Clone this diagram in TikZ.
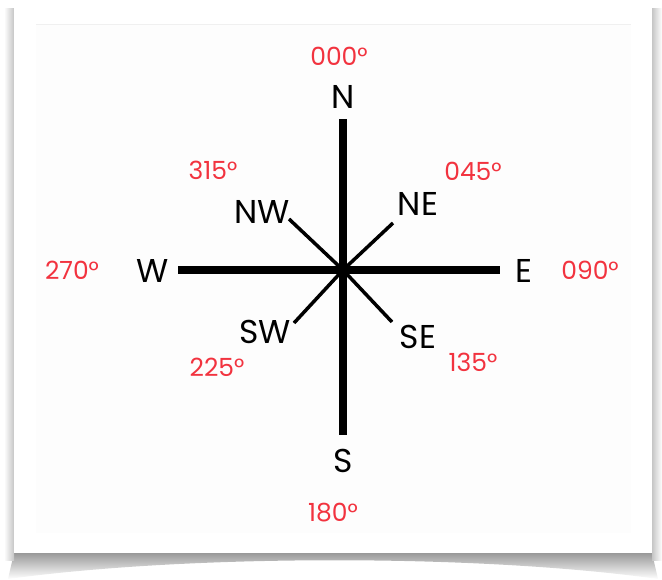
\documentclass[tikz,border=0pt]{standalone}
\usepackage{fontspec}
\setmainfont{Poppins}
\usepackage{xcolor}
\usepackage{tikz}
\usetikzlibrary{calc}
\definecolor{bearing}{HTML}{F2333F}
\definecolor{inner}{HTML}{FDFDFD}

\tikzset{
    point/.style={font=\fontsize{33}{33}\selectfont, text=black, inner sep=0pt},
    angle/.style={font=\fontsize{25}{25}\selectfont, text=bearing, inner sep=0pt},
    mainline/.style={line width=7.5pt},
    diagline/.style={line width=3.5pt},
}

\begin{document}
\begin{tikzpicture}[x=1pt, y=-1pt]
    \useasboundingbox (0,0) rectangle (662,579);
    % --- Card with its shadow ---
    \shade[top color=gray!80, bottom color=white]
        (14,553) -- (652,553) -- (658,579) .. controls (480,554) and (190,554) .. (8,579) -- cycle;
    \shade[left color=white, right color=gray!45] (4,8) rectangle (14,560);
    \shade[left color=gray!45, right color=white] (652,8) rectangle (662,560);
    \fill[white] (14,2) rectangle (652,553);
    \fill[inner] (36,24) rectangle (631,533);
    \draw[gray!12, line width=1pt] (36,24) -- (631,24);

    % --- Compass ---
    \coordinate (c) at (343,270);
    \coordinate (n) at (343,119);
    \coordinate (s) at (343,435);
    \coordinate (w) at (178,270);
    \coordinate (e) at (500,270);
    \coordinate (ne) at (393,223);
    \coordinate (nw) at (289,219);
    \coordinate (sw) at (294,323);
    \coordinate (se) at (392,322);
    \draw[mainline] (n) -- (s);
    \draw[mainline] (w) -- (e);
    \draw[diagline] (c) -- (ne);
    \draw[diagline] (c) -- (nw);
    \draw[diagline] (c) -- (sw);
    \draw[diagline] (c) -- (se);

    % --- Points ---
    \node[point] (N) at (343,97) {N};
    \node[point] (S) at (343,461) {S};
    \node[point] (W) at (153,271) {W};
    \node[point] (E) at (524,271) {E};
    \node[point] (NW) at (262,212) {NW};
    \node[point] (NE) at (418,204) {NE};
    \node[point] (SW) at (265,332) {SW};
    \node[point] (SE) at (418,337) {SE};

    % --- Bearings ---
    \node[angle] (b000) at (339,56) {000\textdegree};
    \node[angle] (b045) at (473,171) {045\textdegree};
    \node[angle] (b090) at (590,270) {090\textdegree};
    \node[angle] (b135) at (473,362) {135\textdegree};
    \node[angle] (b180) at (333,513) {180\textdegree};
    \node[angle] (b225) at (217,367) {225\textdegree};
    \node[angle] (b270) at (72,270) {270\textdegree};
    \node[angle] (b315) at (213,170) {315\textdegree};
\end{tikzpicture}
\end{document}
